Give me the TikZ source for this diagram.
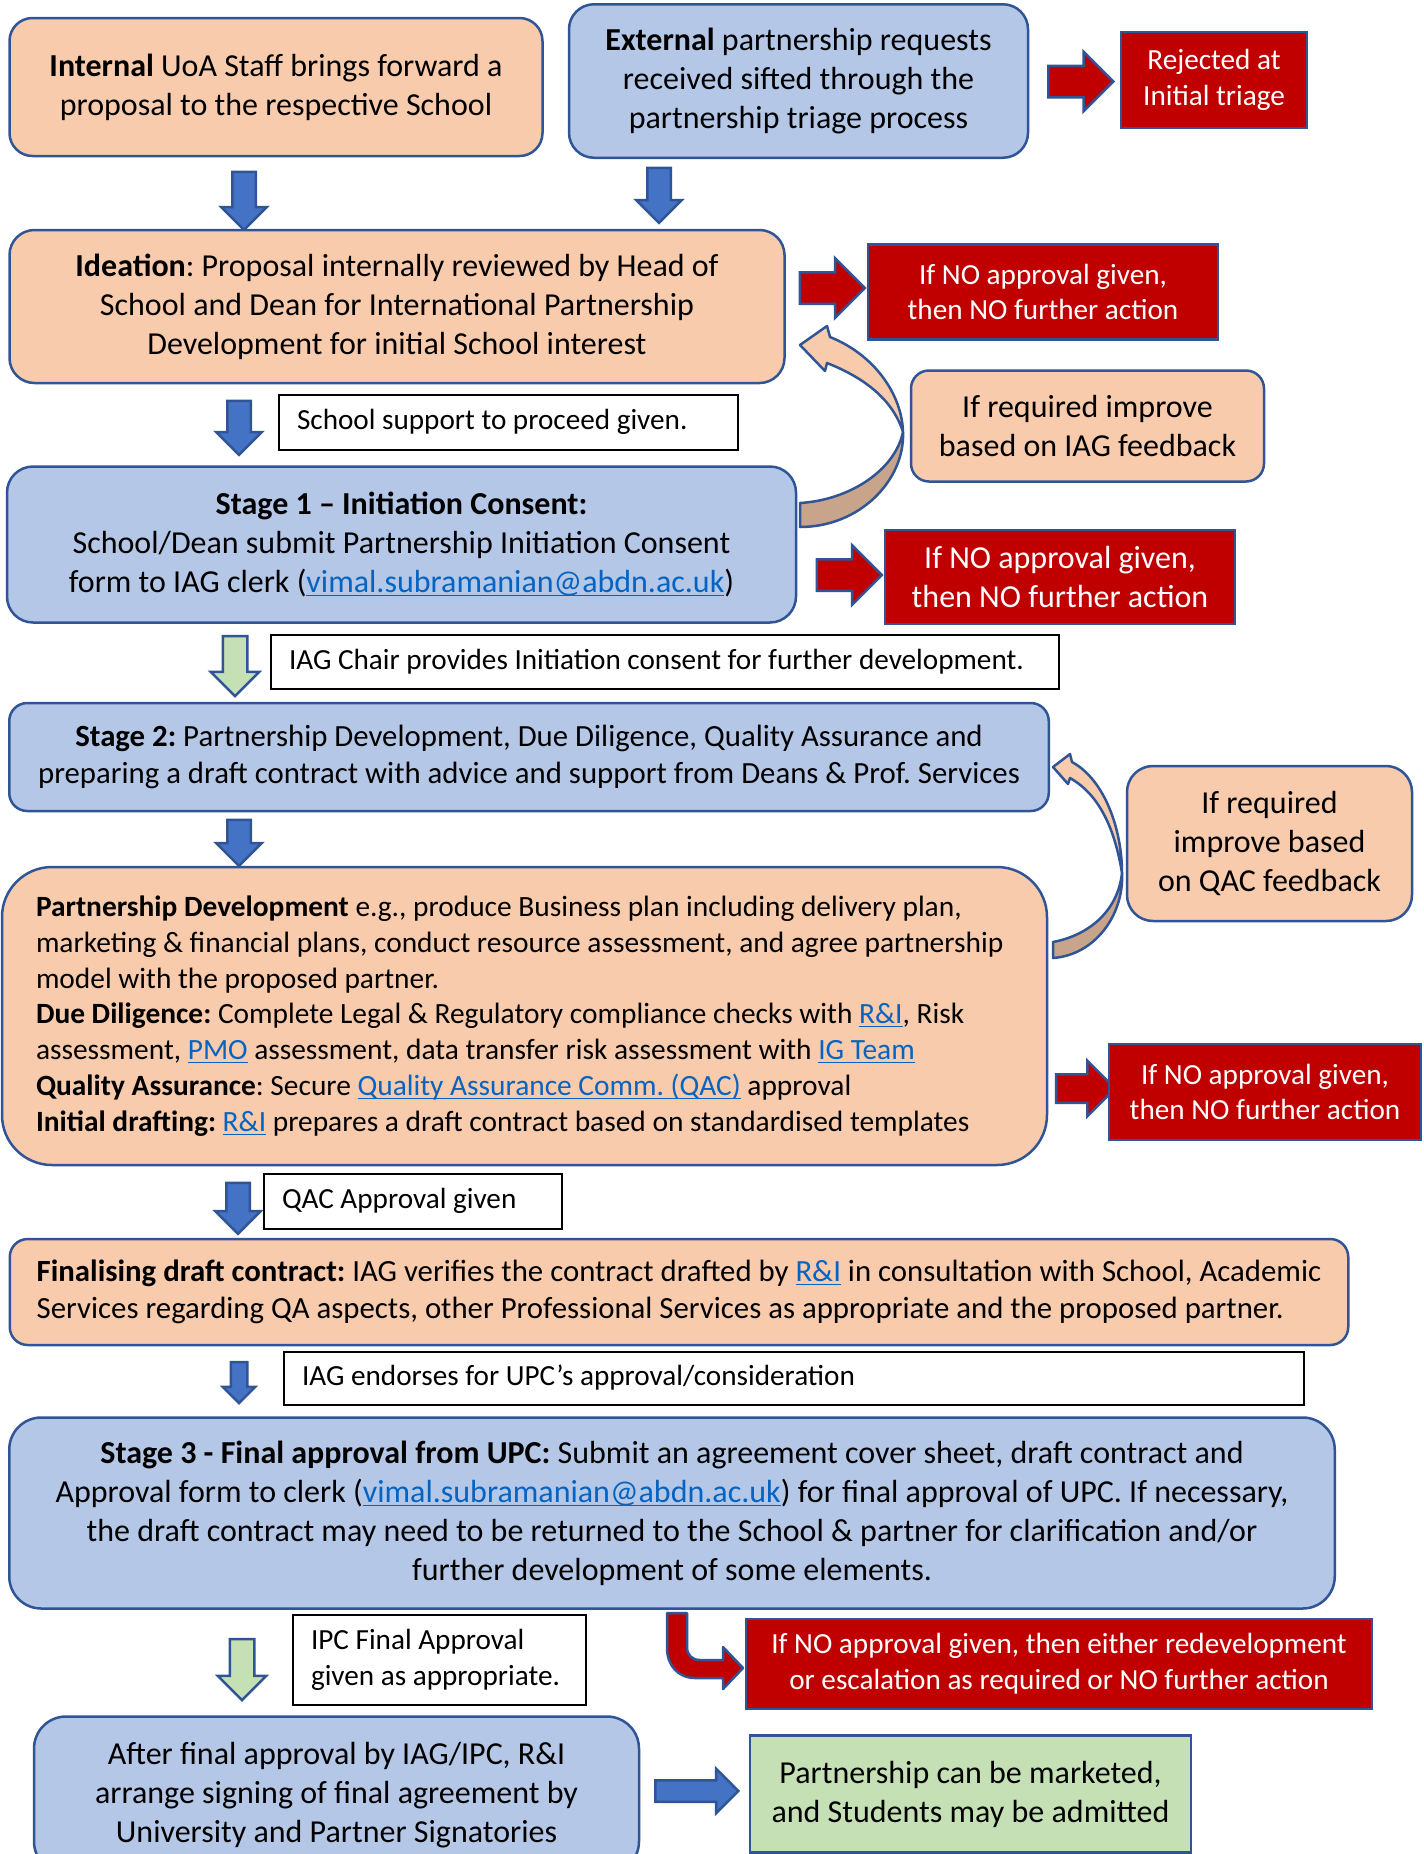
\documentclass[tikz,border=0pt]{standalone}
\usepackage{fontspec}
\setmainfont{Carlito}
\usetikzlibrary{shapes.arrows,positioning}
\frenchspacing

\definecolor{peach}{HTML}{F8CBAD}
\definecolor{paleblue}{HTML}{B4C7E7}
\definecolor{edge}{HTML}{2F5597}
\definecolor{arrowblue}{HTML}{4472C4}
\definecolor{stopred}{HTML}{C00000}
\definecolor{palegreen}{HTML}{C5E0B4}
\definecolor{shade}{HTML}{C8A48A}
\definecolor{linkblue}{HTML}{0563C1}

\newcommand{\bodyfont}{\fontsize{16}{19.5}\selectfont}
\newcommand{\widefont}{\fontsize{15.4}{18.8}\selectfont}
\newcommand{\notefont}{\fontsize{14.6}{17.9}\selectfont}
\newcommand{\weblink}[1]{\textcolor{linkblue}{\underline{\smash{#1}}}}

\tikzset{
  plainspace/.style={execute at begin node={\spaceskip=0pt\xspaceskip=0pt\hyphenpenalty=10000}},
  box/.style={draw=edge, line width=1.25pt, inner sep=0pt, align=center, font=\bodyfont, plainspace},
  peachbox/.style={box, fill=peach},
  bluebox/.style={box, fill=paleblue},
  stopbox/.style={box, fill=stopred, text=white},
  notebox/.style={draw=black, line width=1pt, fill=white, inner xsep=9pt, inner ysep=0pt, align=left, anchor=west, font=\notefont, plainspace},
  blockdown/.style={single arrow, draw=edge, line width=1.25pt, fill=arrowblue, inner xsep=0pt, inner ysep=5.25pt, rotate=-90, single arrow head extend=5.5pt},
  blockright/.style={single arrow, draw=edge, line width=1.25pt, fill=stopred, inner xsep=0pt, inner ysep=7.25pt, single arrow head extend=7pt},
  loopface/.style={fill=peach, draw=edge, line width=1.25pt, line join=round},
  loopside/.style={fill=shade, draw=edge, line width=1.25pt, line join=round},
}

\begin{document}
\begin{tikzpicture}[x=0.5pt, y=-0.5pt]
\useasboundingbox (0,0) rectangle (1424,1854);
\clip (0,0) rectangle (1424,1854);

% proposal sources
\node[peachbox, rounded corners=11.5pt, minimum width=266.5pt, minimum height=69pt] (internal) at (276,87) {\textbf{Internal} UoA Staff brings forward a\\proposal to the respective School};
\node[bluebox, rounded corners=12.5pt, minimum width=229.5pt, minimum height=76.75pt] (external) at (798.5,81) {\textbf{External} partnership requests\\received sifted through the\\partnership triage process};
\node[blockright, minimum height=32.5pt] (torejected) at (1073,81.5) {};
\node[stopbox, font=\notefont, minimum width=93pt, minimum height=48pt] (rejected) at (1214,80) {Rejected at\\Initial triage};
\node[blockdown, minimum height=29pt] (downa) at (244,195) {};
\node[blockdown, minimum height=27.5pt] (downb) at (659,189.5) {};

% ideation
\node[peachbox, rounded corners=12.5pt, minimum width=387.5pt, minimum height=76.5pt] (ideation) at (397,306.5) {\textbf{Ideation}: Proposal internally reviewed by Head of\\School and Dean for International Partnership\\Development for initial School interest};
\node[blockright, minimum height=32.5pt] (tonoideation) at (824.5,288) {};
\node[stopbox, font=\notefont, minimum width=175pt, minimum height=47.5pt] (noideation) at (1043,292) {If NO approval given,\\then NO further action};
\node[peachbox, rounded corners=9pt, minimum width=176.5pt, minimum height=55.5pt] (iagfeedback) at (1087.5,426) {If required improve\\based on IAG feedback};
\node[blockdown, minimum height=27pt] (downc) at (239,422) {};
\node[notebox, text width=211.5pt, minimum height=27.5pt] (schoolok) at (278,422) {School support to proceed given.};

% stage 1
\node[bluebox, rounded corners=13pt, minimum width=394.5pt, minimum height=78pt] (stageone) at (401.5,544.5) {\textbf{Stage 1 – Initiation Consent:}\\School/Dean submit Partnership Initiation Consent\\form to IAG clerk (\weblink{vimal.subramanian@abdn.ac.uk})};
\node[blockright, minimum height=32.5pt] (tonostageone) at (841.5,575) {};
\node[stopbox, minimum width=175pt, minimum height=47pt] (nostageone) at (1060,577) {If NO approval given,\\then NO further action};
\path[loopface] (830,337) .. controls (875,355) and (902,395) .. (903,432) .. controls (893,400) and (865,378) .. (827,363) -- (825,371) -- (800,345) -- (827,326) -- cycle;
\path[loopside] (800,503) .. controls (850,500) and (895,470) .. (903,432) .. controls (905,480) and (860,527) .. (800,527) -- cycle;
\node[blockdown, fill=palegreen, minimum height=30pt, inner ysep=5.5pt, single arrow head extend=6pt] (downd) at (235,660) {};
\node[notebox, text width=376pt, minimum height=27pt] (chairok) at (270,661.5) {IAG Chair provides Initiation consent for further development.};

% stage 2
\node[bluebox, font=\widefont, rounded corners=9pt, minimum width=519.75pt, minimum height=54pt] (stagetwo) at (529,757) {\textbf{Stage 2:} Partnership Development, Due Diligence, Quality Assurance and\\preparing a draft contract with advice and support from Deans \& Prof. Services};
\node[blockdown, minimum height=23pt] (downe) at (239,837) {};
\node[peachbox, rounded corners=13pt, minimum width=142.5pt, minimum height=77.5pt] (qacfeedback) at (1269.5,843.5) {If required\\improve based\\on QAC feedback};
\node[peachbox, rounded corners=25pt, font=\fontsize{14.7}{17.9}\selectfont, align=left, inner xsep=17pt, text width=488.5pt, minimum height=149pt] (develop) at (524.5,1016) {\textbf{Partnership Development} e.g., produce Business plan including delivery plan,\\marketing \& financial plans, conduct resource assessment, and agree partnership\\model with the proposed partner.\\\textbf{Due Diligence:} Complete Legal \& Regulatory compliance checks with \weblink{R\&I}, Risk\\assessment, \weblink{PMO} assessment, data transfer risk assessment with \weblink{IG Team}\\\textbf{Quality Assurance}: Secure \weblink{Quality Assurance Comm. (QAC)} approval\\\textbf{Initial drafting:} \weblink{R\&I} prepares a draft contract based on standardised templates};
\path[loopface] (1072,762) .. controls (1105,780) and (1122,830) .. (1122,873) .. controls (1115,830) and (1100,795) .. (1070,778) -- (1068,784) -- (1053,767) -- (1070,754) -- cycle;
\path[loopside] (1053,942) .. controls (1090,935) and (1118,910) .. (1122,873) .. controls (1124,915) and (1095,955) .. (1053,958) -- cycle;
\node[blockright, minimum height=29.5pt, inner ysep=6.5pt, single arrow head extend=6.75pt] (tonodevelop) at (1078.5,1088.5) {};
\node[stopbox, font=\notefont, minimum width=156pt, minimum height=48pt] (nodevelop) at (1265,1092) {If NO approval given,\\then NO further action};
\node[blockdown, minimum height=25.5pt] (downf) at (238,1202.5) {};
\node[notebox, text width=131pt, minimum height=27.5pt] (qacok) at (263,1201) {QAC Approval given};

% contract
\node[peachbox, font=\widefont, rounded corners=9pt, align=left, minimum width=669.25pt, minimum height=53pt] (finalise) at (679,1292) {\textbf{Finalising draft contract:} IAG verifies the contract drafted by \weblink{R\&I} in consultation with School, Academic\\Services regarding QA aspects, other Professional Services as appropriate and the proposed partner.};
\node[blockdown, minimum height=20.5pt, inner ysep=3.5pt, single arrow head extend=4pt] (downg) at (239,1378.5) {};
\node[notebox, text width=492pt, minimum height=26.5pt] (endorse) at (283,1378) {IAG endorses for UPC’s approval/consideration};

% stage 3
\node[bluebox, rounded corners=16pt, minimum width=662.75pt, minimum height=95.5pt] (stagethree) at (672,1513) {\textbf{Stage 3 - Final approval from UPC:} Submit an agreement cover sheet, draft contract and\\Approval form to clerk (\weblink{vimal.subramanian@abdn.ac.uk}) for final approval of UPC. If necessary,\\the draft contract may need to be returned to the School \& partner for clarification and/or\\further development of some elements.};
\node[blockdown, fill=palegreen, minimum height=30.5pt, inner ysep=5.5pt, single arrow head extend=6pt] (downh) at (242,1663.5) {};
\node[notebox, text width=128.5pt, minimum height=45pt] (ipcok) at (292,1660) {IPC Final Approval\\given as appropriate.};
\path[loopface, fill=stopred] (667,1613) -- (667,1648) .. controls (667,1665) and (678,1678) .. (695,1678) -- (723,1678) -- (723,1689) -- (743,1668) -- (723,1647) -- (723,1660) -- (700,1660) .. controls (692,1660) and (687,1655) .. (687,1647) -- (687,1613) -- cycle;
\node[stopbox, font=\notefont, minimum width=313pt, minimum height=45pt] (nostagethree) at (1059,1664) {If NO approval given, then either redevelopment\\or escalation as required or NO further action};
\node[bluebox, rounded corners=16pt, minimum width=302.5pt, minimum height=78.5pt] (signing) at (336.5,1795) {After final approval by IAG/IPC, R\&I\\arrange signing of final agreement by\\University and Partner Signatories};
\node[blockright, fill=arrowblue, minimum height=41.5pt, inner ysep=4.75pt, single arrow head extend=5.75pt] (tomarketed) at (691.5,1791) {};
\node[box, fill=palegreen, minimum width=220.5pt, minimum height=58.5pt] (marketed) at (970.5,1794) {Partnership can be marketed,\\and Students may be admitted};
\end{tikzpicture}
\end{document}
